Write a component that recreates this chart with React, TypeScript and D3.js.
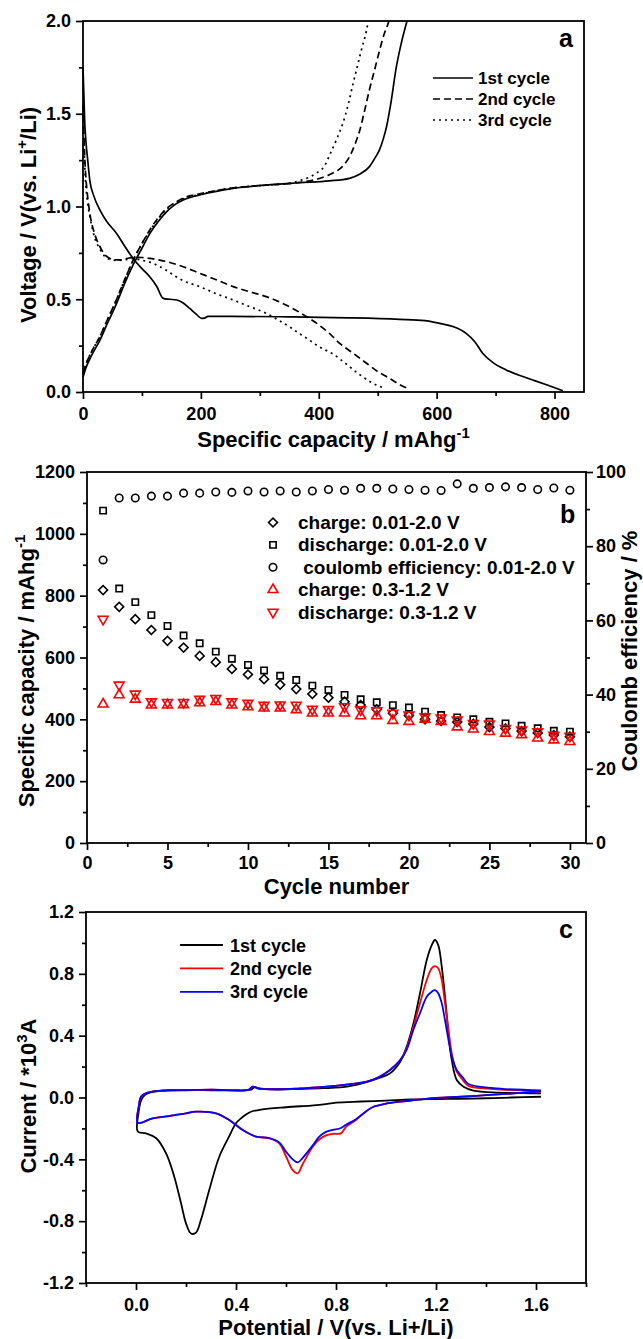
import React, { useEffect, useRef } from 'react';
import * as d3 from 'd3';

const FONT = '"Liberation Sans", Arial, Helvetica, sans-serif';
type P = [number, number];

// ---------- Panel a: galvanostatic profiles (capacity mAh/g, voltage V) ----------
const capMajor = [0, 200, 400, 600, 800];
const capMinor = [100, 300, 500, 700];
const voltMajor = [0, 0.5, 1.0, 1.5, 2.0];
const voltMinor = [0.25, 0.75, 1.25, 1.75];

const discharge1: P[] = [[0,1.75],[1.5,1.6],[3,1.45],[5,1.35],[8,1.25],[11.6,1.14],[18,1.06],[28.8,0.98],[40,0.92],[57,0.855],[70,0.79],[85,0.72],[100,0.665],[113.6,0.62],[125,0.57],[136,0.505],[147,0.5],[159,0.496],[170,0.48],[181,0.451],[192,0.42],[201,0.397],[206,0.398],[212,0.408],[250,0.408],[350,0.405],[450,0.4],[537,0.392],[580,0.385],[605,0.37],[630,0.35],[650,0.316],[665,0.27],[678,0.209],[695,0.16],[718,0.119],[740,0.09],[763,0.065],[790,0.035],[814,0.007]];
const charge1: P[] = [[0,0.08],[5,0.13],[15,0.2],[28.8,0.28],[40,0.36],[57,0.478],[70,0.58],[85,0.685],[100,0.775],[113.6,0.855],[128,0.92],[142,0.972],[156,1.01],[170,1.035],[198,1.062],[255,1.098],[311,1.116],[368,1.128],[418,1.138],[452,1.152],[470,1.175],[486,1.215],[497,1.27],[503,1.305],[510,1.37],[515,1.43],[522,1.55],[531.7,1.754],[540,1.88],[549.7,2.0]];
const discharge2: P[] = [[0,1.55],[2,1.35],[4,1.2],[7,1.08],[11.6,0.963],[20,0.85],[28.8,0.783],[37,0.74],[45.8,0.72],[55,0.713],[62.7,0.712],[75,0.72],[85,0.726],[100,0.725],[113.6,0.72],[128,0.712],[142,0.703],[170,0.675],[198,0.64],[226,0.605],[255,0.568],[283,0.54],[311,0.514],[330,0.49],[350,0.46],[367,0.43],[384,0.397],[401,0.36],[418,0.316],[435.6,0.262],[458,0.21],[481,0.155],[500,0.11],[520,0.074],[537,0.04],[554,0.015]];
const charge2: P[] = [[0,0.1],[5,0.15],[15,0.22],[28.8,0.3],[40,0.38],[57,0.5],[70,0.6],[85,0.71],[100,0.8],[113.6,0.875],[128,0.94],[142,0.99],[156,1.02],[170,1.045],[198,1.068],[255,1.1],[311,1.115],[368,1.13],[401.7,1.152],[424,1.18],[440,1.215],[452.5,1.27],[462,1.34],[469.5,1.41],[478,1.52],[486,1.63],[495,1.74],[503,1.84],[511,1.93],[517,1.98],[519,2.0]];
const discharge3: P[] = [[0,1.5],[2,1.3],[4,1.15],[7,1.04],[12,0.94],[20,0.83],[28.8,0.77],[37,0.73],[45.8,0.715],[55,0.71],[62.7,0.71],[75,0.715],[85,0.72],[100,0.71],[113.6,0.7],[128,0.68],[142,0.655],[156,0.625],[170,0.6],[198,0.568],[226,0.53],[255,0.496],[283,0.46],[311,0.424],[330,0.39],[350,0.352],[367,0.315],[384,0.28],[400,0.245],[424,0.205],[447,0.15],[470,0.092],[490,0.05],[512,0.02]];
const charge3: P[] = [[0,0.1],[5,0.15],[15,0.22],[28.8,0.3],[40,0.38],[57,0.5],[70,0.6],[85,0.71],[100,0.8],[113.6,0.87],[128,0.935],[142,0.985],[156,1.02],[170,1.04],[198,1.065],[255,1.1],[311,1.115],[350,1.125],[368,1.14],[396,1.18],[410,1.22],[418.6,1.278],[430,1.36],[441,1.45],[450,1.55],[458,1.66],[465,1.75],[472,1.84],[481,1.95],[484,2.0]];
const cycleLabelsA = ['1st cycle', '2nd cycle', '3rd cycle'];

// ---------- Panel b: cycling ----------
const cycles = d3.range(1, 31);
const chargeWide = [818,764,724,689,654,632,605,585,563,545,530,512,498,482,470,457,446,432,420,412,400,395,391,385,375,370,362,356,349,344];
const dischargeWide = [1075,823,779,737,702,671,646,619,596,576,558,541,527,509,495,479,465,455,446,438,425,414,406,400,392,387,379,371,363,360];
const coulombEff = [76.3,93.0,93.0,93.5,93.5,94.3,94.3,94.6,94.5,94.9,94.6,94.9,94.6,94.9,95.3,95.1,95.6,95.6,95.4,95.3,95.1,95.0,96.8,95.6,95.8,96.0,95.8,95.3,95.7,95.1];
const chargeNarrow = [449,479,465,446,446,447,453,457,446,440,436,436,431,420,420,420,411,411,396,393,400,393,375,368,360,355,350,339,333,328];
const dischargeNarrow = [724,511,482,457,455,455,465,468,457,452,446,447,446,433,432,441,431,428,420,414,409,405,398,387,385,371,366,360,349,346];
const legendB = ['charge: 0.01-2.0 V', 'discharge: 0.01-2.0 V', ' coulomb efficiency: 0.01-2.0 V', 'charge: 0.3-1.2 V', 'discharge: 0.3-1.2 V'];

// ---------- Panel c: cyclic voltammetry (V, current) ----------
const cv1: P[] = [[1.62,0.005],[1.5,0.0],[1.4,-0.005],[1.3,-0.008],[1.2,-0.01],[1.1,-0.013],[1.0,-0.02],[0.9,-0.026],[0.8,-0.033],[0.75,-0.045],[0.7,-0.052],[0.6,-0.063],[0.5,-0.078],[0.46,-0.092],[0.44,-0.11],[0.42,-0.135],[0.4,-0.167],[0.37,-0.26],[0.333,-0.383],[0.293,-0.598],[0.26,-0.79],[0.24,-0.874],[0.22,-0.88],[0.2,-0.814],[0.18,-0.683],[0.153,-0.512],[0.12,-0.36],[0.08,-0.262],[0.04,-0.232],[0.007,-0.22],[0.01,-0.1],[0.02,-0.02],[0.035,0.015],[0.06,0.035],[0.1,0.043],[0.2,0.047],[0.3,0.047],[0.4,0.047],[0.46,0.05],[0.475,0.068],[0.49,0.06],[0.55,0.052],[0.65,0.055],[0.75,0.06],[0.85,0.072],[0.923,0.1],[0.97,0.125],[1.016,0.156],[1.056,0.23],[1.083,0.33],[1.11,0.48],[1.136,0.674],[1.163,0.89],[1.183,0.986],[1.196,1.019],[1.209,0.986],[1.223,0.846],[1.236,0.652],[1.25,0.415],[1.263,0.243],[1.283,0.113],[1.31,0.07],[1.35,0.045],[1.45,0.032],[1.55,0.028],[1.62,0.027]];
const cv2: P[] = [[1.62,0.04],[1.5,0.025],[1.4,0.015],[1.3,0.005],[1.2,-0.003],[1.12,-0.016],[1.05,-0.028],[1.0,-0.04],[0.95,-0.06],[0.92,-0.09],[0.88,-0.145],[0.84,-0.19],[0.82,-0.232],[0.787,-0.235],[0.76,-0.245],[0.733,-0.272],[0.707,-0.318],[0.667,-0.43],[0.647,-0.49],[0.627,-0.47],[0.6,-0.38],[0.573,-0.296],[0.533,-0.264],[0.48,-0.253],[0.427,-0.21],[0.373,-0.146],[0.32,-0.102],[0.24,-0.092],[0.2,-0.102],[0.133,-0.12],[0.067,-0.135],[0.007,-0.163],[0.012,-0.05],[0.02,0.005],[0.047,0.031],[0.09,0.043],[0.133,0.048],[0.3,0.05],[0.45,0.05],[0.467,0.07],[0.49,0.058],[0.6,0.054],[0.656,0.059],[0.75,0.068],[0.85,0.085],[0.923,0.102],[0.97,0.13],[1.016,0.178],[1.056,0.24],[1.083,0.32],[1.11,0.46],[1.136,0.61],[1.163,0.76],[1.183,0.836],[1.196,0.85],[1.209,0.836],[1.223,0.76],[1.236,0.61],[1.25,0.437],[1.263,0.286],[1.283,0.167],[1.31,0.108],[1.33,0.075],[1.43,0.054],[1.62,0.043]];
const cv3: P[] = [[1.62,0.04],[1.5,0.025],[1.4,0.015],[1.3,0.005],[1.2,-0.003],[1.12,-0.016],[1.05,-0.028],[1.0,-0.04],[0.95,-0.06],[0.92,-0.09],[0.88,-0.14],[0.84,-0.176],[0.82,-0.197],[0.787,-0.21],[0.76,-0.222],[0.733,-0.253],[0.707,-0.31],[0.667,-0.39],[0.647,-0.42],[0.627,-0.4],[0.6,-0.35],[0.573,-0.29],[0.533,-0.262],[0.48,-0.253],[0.427,-0.21],[0.373,-0.146],[0.32,-0.102],[0.24,-0.092],[0.2,-0.102],[0.133,-0.12],[0.067,-0.135],[0.007,-0.163],[0.012,-0.05],[0.02,0.005],[0.047,0.031],[0.09,0.043],[0.133,0.048],[0.3,0.05],[0.45,0.05],[0.467,0.07],[0.49,0.058],[0.6,0.054],[0.656,0.059],[0.75,0.068],[0.85,0.085],[0.923,0.102],[0.97,0.13],[1.016,0.178],[1.056,0.24],[1.083,0.31],[1.11,0.44],[1.136,0.545],[1.163,0.652],[1.183,0.684],[1.196,0.695],[1.209,0.674],[1.223,0.61],[1.236,0.5],[1.25,0.372],[1.263,0.265],[1.283,0.178],[1.31,0.124],[1.33,0.087],[1.43,0.06],[1.62,0.046]];
const potMajor = [0, 0.4, 0.8, 1.2, 1.6];
const potMinor = [-0.2, 0.2, 0.6, 1.0, 1.4, 1.8];
const curMajor = [-1.2, -0.8, -0.4, 0, 0.4, 0.8, 1.2];
const curMinor = [-1.0, -0.6, -0.2, 0.2, 0.6, 1.0];
const cvColors = ['#000000', '#ff0000', '#0000ff'];

type Sel = d3.Selection<any, any, any, any>;

function axis(parent: Sel, orient: 'left' | 'right' | 'bottom', scale: d3.ScaleLinear<number, number>, major: number[], minor: number[], fmt: (v: number) => string, tx: number, ty: number, padOverride?: number) {
  const mk = orient === 'left' ? d3.axisLeft : orient === 'right' ? d3.axisRight : d3.axisBottom;
  const pad = padOverride ?? (orient === 'bottom' ? 8 : orient === 'right' ? 3 : 5);
  const g1 = parent.append('g').attr('transform', `translate(${tx},${ty})`)
    .call(mk(scale).tickValues(minor).tickSize(4).tickFormat(() => '') as any);
  const g2 = parent.append('g').attr('transform', `translate(${tx},${ty})`)
    .call(mk(scale).tickValues(major).tickSize(7).tickPadding(pad).tickFormat(fmt as any) as any);
  [g1, g2].forEach(g => {
    g.select('.domain').remove();
    g.selectAll('line').attr('stroke', '#000').attr('stroke-width', 1.7);
    g.selectAll('text').attr('font-family', FONT).attr('font-size', 18).attr('font-weight', 'bold').attr('fill', '#000');
  });
}

function frame(parent: Sel, l: number, t: number, r: number, b: number) {
  parent.append('rect').attr('x', l).attr('y', t).attr('width', r - l).attr('height', b - t)
    .attr('fill', 'none').attr('stroke', '#000').attr('stroke-width', 1.8);
}

function title(parent: Sel, x: number, y: number, parts: { t: string; sup?: boolean }[], rotate = false, size = 22) {
  const txt = parent.append('text')
    .attr('font-family', FONT).attr('font-size', size).attr('font-weight', 'bold').attr('fill', '#000')
    .attr('text-anchor', 'middle');
  if (rotate) txt.attr('transform', `translate(${x},${y}) rotate(-90)`);
  else txt.attr('x', x).attr('y', y);
  let prevSup = false;
  parts.forEach(p => {
    const ts = txt.append('tspan').text(p.t);
    if (p.sup) ts.attr('font-size', size * 0.68).attr('dy', -size * 0.42);
    else if (prevSup) ts.attr('dy', size * 0.42);
    prevSup = !!p.sup;
  });
  return txt;
}

export default function App() {
  const ref = useRef<SVGSVGElement>(null);
  useEffect(() => {
    const svg = d3.select(ref.current!);
    svg.selectAll('*').remove();
    svg.append('rect').attr('width', 643).attr('height', 1339).attr('fill', '#fff');
    const fmt1 = (v: number) => v.toFixed(1);
    const fmt0 = (v: number) => String(v);

    // ================= Panel a =================
    {
      const L = 83, R = 584, T = 21, B = 392;
      const x = d3.scaleLinear().domain([0, 850]).range([L, R]);
      const y = d3.scaleLinear().domain([0, 2]).range([B, T]);
      const g = svg.append('g');
      const line = d3.line<P>().x(d => x(d[0])).y(d => y(d[1])).curve(d3.curveMonotoneX);
      const styles = [
        { dash: null, data: [discharge1, charge1] },
        { dash: '7,4', data: [discharge2, charge2] },
        { dash: '2,4', data: [discharge3, charge3] },
      ];
      styles.forEach(s => s.data.forEach(d => {
        const p = g.append('path').attr('d', line(d)!).attr('fill', 'none').attr('stroke', '#000').attr('stroke-width', 1.7);
        if (s.dash) p.attr('stroke-dasharray', s.dash);
      }));
      frame(g, L, T, R, B);
      axis(g, 'left', y, voltMajor, voltMinor, fmt1, L, 0);
      axis(g, 'bottom', x, capMajor, capMinor, fmt0, 0, B);
      cycleLabelsA.forEach((lab, i) => {
        const yy = 78 + i * 21;
        const ln = g.append('line').attr('x1', 433).attr('x2', 473).attr('y1', yy).attr('y2', yy)
          .attr('stroke', '#000').attr('stroke-width', 1.7);
        if (styles[i].dash) ln.attr('stroke-dasharray', styles[i].dash!);
        g.append('text').attr('x', 478).attr('y', yy + 6).text(lab)
          .attr('font-family', FONT).attr('font-size', 17).attr('font-weight', 'bold');
      });
      g.append('text').attr('x', 559).attr('y', 47).text('a')
        .attr('font-family', FONT).attr('font-size', 25).attr('font-weight', 'bold');
      title(g, (L + R) / 2, 447, [{ t: 'Specific capacity / mAhg' }, { t: '-1', sup: true }]);
      title(g, 36, 215, [{ t: 'Voltage / V(vs. Li' }, { t: '+', sup: true }, { t: '/Li)' }], true);
    }

    // ================= Panel b =================
    {
      const L = 87, R = 586, T = 472, B = 843;
      const x = d3.scaleLinear().domain([0, 31]).range([L, R]);
      const y = d3.scaleLinear().domain([0, 1200]).range([B, T]);
      const yR = d3.scaleLinear().domain([0, 100]).range([B, T]);
      const g = svg.append('g');
      const sym = (type: d3.SymbolType, size: number) => d3.symbol().type(type).size(size)()!;
      const markers = [
        { path: sym(d3.symbolSquare, 40), rot: 45, color: '#000' },
        { path: sym(d3.symbolSquare, 40), rot: 0, color: '#000' },
        { path: sym(d3.symbolCircle, 44), rot: 0, color: '#000' },
        { path: sym(d3.symbolTriangle, 42), rot: 0, color: '#ff0000' },
        { path: sym(d3.symbolTriangle, 42), rot: 180, color: '#ff0000' },
      ];
      const series = [
        { vals: chargeWide, sc: y },
        { vals: dischargeWide, sc: y },
        { vals: coulombEff, sc: yR },
        { vals: chargeNarrow, sc: y },
        { vals: dischargeNarrow, sc: y },
      ];
      series.forEach((s, si) => {
        const m = markers[si];
        g.append('g').selectAll('path').data(cycles).join('path')
          .attr('d', m.path)
          .attr('transform', (c, i) => `translate(${x(c)},${s.sc(s.vals[i])}) rotate(${m.rot})`)
          .attr('fill', 'none').attr('stroke', m.color).attr('stroke-width', 1.6);
      });
      frame(g, L, T, R, B);
      axis(g, 'left', y, d3.range(0, 1201, 200), d3.range(100, 1200, 200), fmt0, L, 0);
      axis(g, 'right', yR, d3.range(0, 101, 20), d3.range(10, 100, 20), fmt0, R, 0);
      axis(g, 'bottom', x, d3.range(0, 31, 5), d3.range(2.5, 31, 5), fmt0, 0, B, 6);
      legendB.forEach((lab, i) => {
        const yy = 522.5 + i * 22.4;
        const m = markers[i];
        g.append('path').attr('d', m.path).attr('transform', `translate(273,${yy}) rotate(${m.rot})`)
          .attr('fill', 'none').attr('stroke', m.color).attr('stroke-width', 1.6);
        g.append('text').attr('x', 298).attr('y', yy + 6.5).text(lab)
          .style('white-space', 'pre')
          .attr('font-family', FONT).attr('font-size', 19).attr('font-weight', 'bold');
      });
      g.append('text').attr('x', 560).attr('y', 523).text('b')
        .attr('font-family', FONT).attr('font-size', 25).attr('font-weight', 'bold');
      title(g, (L + R) / 2, 894, [{ t: 'Cycle number' }]);
      title(g, 34, 671, [{ t: 'Specific capacity / mAhg' }, { t: '-1', sup: true }], true);
      title(g, 637, 651, [{ t: 'Coulomb efficiency / %' }], true);
    }

    // ================= Panel c =================
    {
      const L = 86, R = 586, T = 912, B = 1283;
      const x = d3.scaleLinear().domain([-0.2, 1.8]).range([L, R]);
      const y = d3.scaleLinear().domain([-1.2, 1.2]).range([B, T]);
      const g = svg.append('g');
      const line = d3.line<P>().x(d => x(d[0])).y(d => y(d[1])).curve(d3.curveCatmullRom.alpha(0.5));
      [cv1, cv2, cv3].forEach((d, i) => {
        g.append('path').attr('d', line(d)!).attr('fill', 'none').attr('stroke', cvColors[i]).attr('stroke-width', 1.8);
      });
      frame(g, L, T, R, B);
      axis(g, 'left', y, curMajor, curMinor, fmt1, L, 0);
      axis(g, 'bottom', x, potMajor, potMinor, fmt1, 0, B);
      cycleLabelsA.forEach((lab, i) => {
        const yy = 945 + i * 23.4;
        g.append('line').attr('x1', 180).attr('x2', 223).attr('y1', yy).attr('y2', yy)
          .attr('stroke', cvColors[i]).attr('stroke-width', 1.8);
        g.append('text').attr('x', 230).attr('y', yy + 6.5).text(lab)
          .attr('font-family', FONT).attr('font-size', 18).attr('font-weight', 'bold');
      });
      g.append('text').attr('x', 559).attr('y', 938).text('c')
        .attr('font-family', FONT).attr('font-size', 25).attr('font-weight', 'bold');
      title(g, (L + R) / 2, 1335, [{ t: 'Potential / V(vs. Li+/Li)' }]);
      title(g, 36, 1096, [{ t: 'Current / *10' }, { t: '3', sup: true }, { t: 'A' }], true);
    }
  }, []);
  return <svg ref={ref} width={643} height={1339} style={{ position: 'absolute', left: 0, top: 0 }} />;
}
